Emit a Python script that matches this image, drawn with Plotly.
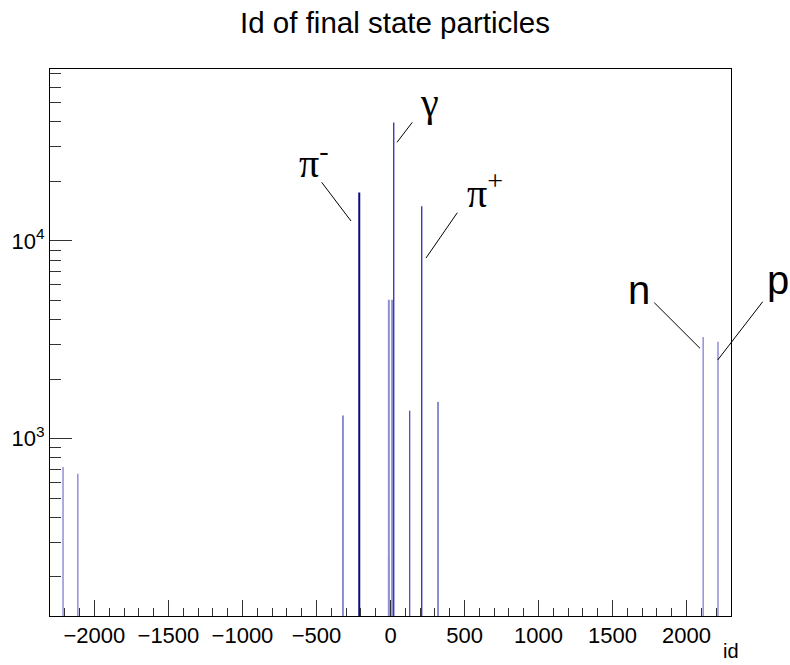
import plotly.graph_objects as go

# ---- data (PDG id of final-state particle, entries) ----
particle_ids = [-2212, -2112, -321, -211, -13, -11, 11, 22, 130, 211, 321, 2112, 2212]
counts = [720, 665, 1310, 17600, 255, 5050, 5050, 39700, 1385, 15000, 1535, 3270, 3090]

x_tick_vals = [-2000, -1500, -1000, -500, 0, 500, 1000, 1500, 2000]
y_tick_vals = [1000, 10000]
y_tick_text = ["10<sup>3</sup>", "10<sup>4</sup>"]

title_text = "Id of final state particles"
x_title = "id"

# ---- styles (not data) ----
dark = "#1a1aa6"
light = "#8f8fd8"
style = {-2212: (light, 1.5), -2112: (light, 1.5), -321: (dark, 1), -211: ("#0b0b80", 2),
         -13: ("#10109a", 1.2), -11: (light, 2), 11: (light, 2), 22: (dark, 1.2),
         130: (dark, 1), 211: (dark, 1.2), 321: (dark, 1), 2112: (light, 1.5), 2212: (light, 1.5)}

fig = go.Figure()
for pid, c in zip(particle_ids, counts):
    col, w = style[pid]
    fig.add_trace(go.Scatter(x=[pid, pid], y=[1, c], mode="lines",
                             line=dict(color=col, width=w), showlegend=False,
                             hoverinfo="skip"))

L, R, T, B = 50, 59, 69, 49
W, H = 790, 665
pw, ph = W - L - R, H - T - B

def px(x):
    return (x - L) / pw

def py(y):
    return (H - B - y) / ph

font = "Liberation Sans, Arial, Helvetica, sans-serif"
greek = "Liberation Serif, Times New Roman, serif"

# label lines (paper coordinates)
lines = [((321.7, 182.3), (351, 221)),
         ((412.3, 122.3), (397, 142.3)),
         ((457.3, 212.7), (426, 258)),
         ((654.3, 302.7), (700, 348.3)),
         ((762.7, 301.7), (717.7, 360))]
shapes = []
for (x0, y0), (x1, y1) in lines:
    shapes.append(dict(type="line", xref="paper", yref="paper",
                       x0=px(x0), y0=py(y0), x1=px(x1), y1=py(y1),
                       line=dict(color="black", width=1)))

labels = [("π<sup>-</sup>", 314, 160, greek),
          ("γ", 429, 102, greek),
          ("π<sup>+</sup>", 485, 190, greek),
          ("n", 639, 290, font),
          ("p", 778, 280, font)]
annotations = []
for t, x, y, f in labels:
    annotations.append(dict(text=t, xref="paper", yref="paper", x=px(x), y=py(y),
                            xanchor="center", yanchor="middle", showarrow=False,
                            font=dict(family=f, size=40, color="black")))
annotations.append(dict(text=x_title, xref="paper", yref="paper", x=px(741), y=py(664),
                        xanchor="right", yanchor="bottom", showarrow=False,
                        font=dict(family=font, size=20, color="black")))

fig.update_layout(
    width=W, height=H,
    margin=dict(l=L, r=R, t=T, b=B, pad=0),
    paper_bgcolor="white", plot_bgcolor="white",
    title=dict(text=title_text, x=0.5, xanchor="center", y=1 - 23 / H, yanchor="middle",
               yref="container", font=dict(family=font, size=29.5, color="black")),
    shapes=shapes, annotations=annotations,
    font=dict(family=font, color="black"),
)
fig.update_xaxes(range=[-2300, 2300], showgrid=False, zeroline=False,
                 tickvals=x_tick_vals, ticks="inside", ticklen=16, tickwidth=1,
                 tickcolor="#333", showline=True, linecolor="black", linewidth=1, mirror=True,
                 tickfont=dict(family=font, size=22, color="black"),
                 minor=dict(dtick=100, tick0=0, ticks="inside", ticklen=8, tickcolor="#333"))
minor_y = [m * 10 ** e for e in (2, 3, 4) for m in range(2, 10)]
fig.update_yaxes(type="log", range=[2.103, 4.870], showgrid=False, zeroline=False,
                 tickvals=y_tick_vals, ticktext=y_tick_text, ticks="inside", ticklen=22,
                 tickwidth=1, tickcolor="#333", showline=True, linecolor="black", linewidth=1,
                 mirror=True, tickfont=dict(family=font, size=22, color="black"),
                 minor=dict(tickvals=minor_y, ticks="inside", ticklen=11, tickcolor="#333"))

fig.write_html("out.html")
